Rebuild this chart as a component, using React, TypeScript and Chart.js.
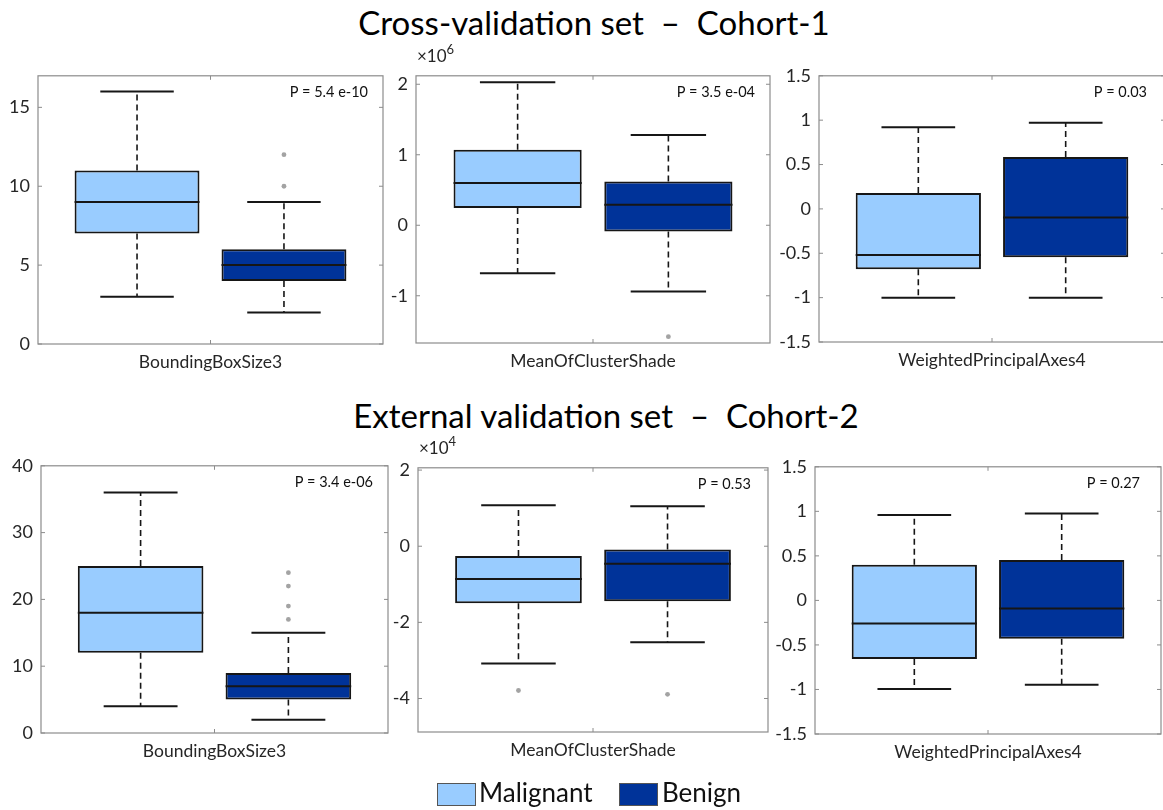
import React, { useEffect, useRef } from 'react';
import { Chart, registerables } from 'chart.js';

Chart.register(...registerables);

// ---------------- data ----------------
const groups = ['Malignant', 'Benign'];
const groupPositions = [1, 2];
const groupColors = ['#99ccff', '#003399'];

const featureNames = ['BoundingBoxSize3', 'MeanOfClusterShade', 'WeightedPrincipalAxes4'];
const rowTitles = ['Cross-validation set  \u2013  Cohort-1', 'External validation set  \u2013  Cohort-2'];

// Cross-validation set, Cohort-1
const cvBBSLow = [3, 2];
const cvBBSQ1 = [7, 4];
const cvBBSMed = [9, 5];
const cvBBSQ3 = [11, 6];
const cvBBSHigh = [16, 9];
const cvBBSOutMal: number[] = [];
const cvBBSOutBen = [10, 12];
const cvBBSP = 'P = 5.4 e-10';

// MeanOfClusterShade values in units of 10^6
const cvMCSLow = [-0.68, -0.94];
const cvMCSQ1 = [0.246, -0.088];
const cvMCSMed = [0.6, 0.29];
const cvMCSQ3 = [1.07, 0.62];
const cvMCSHigh = [2.03, 1.28];
const cvMCSOutMal: number[] = [];
const cvMCSOutBen = [-1.58];
const cvMCSP = 'P = 3.5 e-04';

const cvWPALow = [-1.0, -1.0];
const cvWPAQ1 = [-0.68, -0.546];
const cvWPAMed = [-0.52, -0.096];
const cvWPAQ3 = [0.18, 0.585];
const cvWPAHigh = [0.92, 0.97];
const cvWPAOutMal: number[] = [];
const cvWPAOutBen: number[] = [];
const cvWPAP = 'P = 0.03';

// External validation set, Cohort-2
const exBBSLow = [4, 2];
const exBBSQ1 = [12, 5];
const exBBSMed = [18, 7];
const exBBSQ3 = [25, 9];
const exBBSHigh = [36, 15];
const exBBSOutMal: number[] = [];
const exBBSOutBen = [17, 19, 22, 24];
const exBBSP = 'P = 3.4 e-06';

// MeanOfClusterShade values in units of 10^4
const exMCSLow = [-3.08, -2.52];
const exMCSQ1 = [-1.5, -1.445];
const exMCSMed = [-0.86, -0.46];
const exMCSQ3 = [-0.26, -0.085];
const exMCSHigh = [1.076, 1.05];
const exMCSOutMal = [-3.79];
const exMCSOutBen = [-3.89];
const exMCSP = 'P = 0.53';

const exWPALow = [-0.995, -0.946];
const exWPAQ1 = [-0.657, -0.43];
const exWPAMed = [-0.26, -0.092];
const exWPAQ3 = [0.4, 0.454];
const exWPAHigh = [0.96, 0.975];
const exWPAOutMal: number[] = [];
const exWPAOutBen: number[] = [];
const exWPAP = 'P = 0.27';

// axis limits [min, max, step]
const yLimits = [
  [0, 17, 5],
  [-1.67, 2.12, 1],
  [-1.5, 1.5, 0.5],
  [0, 40, 10],
  [-4.88, 2.06, 2],
  [-1.5, 1.5, 0.5],
];
const exponents = ['', '6', '', '', '4', ''];
const xMin = 0.326;
const xMax = 2.674;
const groupTick = 1.5;

// ---------------- layout ----------------
const FONT = 'Lato, "Open Sans", sans-serif';
const Y_AXIS_W = 44;
const PAD_T = 14;
const PAD_R = 14;
const X_AXIS_H = 40;

const rects = [
  { l: 38, t: 71, r: 383, b: 344 },
  { l: 416, t: 71, r: 770, b: 343 },
  { l: 819, t: 71, r: 1165, b: 342 },
  { l: 41, t: 461, r: 388, b: 733 },
  { l: 418, t: 463, r: 768, b: 732 },
  { l: 815, t: 462, r: 1161, b: 734 },
];
const pInsets = [15, 15, 18, 15, 17, 21];

type Panel = {
  name: string;
  pText: string;
  low: number[];
  q1: number[];
  med: number[];
  q3: number[];
  high: number[];
  outliers: number[][];
  lim: number[];
  rect: { l: number; t: number; r: number; b: number };
  pInset: number;
  exponent: string;
};

const panelStats = [
  [cvBBSLow, cvBBSQ1, cvBBSMed, cvBBSQ3, cvBBSHigh, cvBBSOutMal, cvBBSOutBen, cvBBSP],
  [cvMCSLow, cvMCSQ1, cvMCSMed, cvMCSQ3, cvMCSHigh, cvMCSOutMal, cvMCSOutBen, cvMCSP],
  [cvWPALow, cvWPAQ1, cvWPAMed, cvWPAQ3, cvWPAHigh, cvWPAOutMal, cvWPAOutBen, cvWPAP],
  [exBBSLow, exBBSQ1, exBBSMed, exBBSQ3, exBBSHigh, exBBSOutMal, exBBSOutBen, exBBSP],
  [exMCSLow, exMCSQ1, exMCSMed, exMCSQ3, exMCSHigh, exMCSOutMal, exMCSOutBen, exMCSP],
  [exWPALow, exWPAQ1, exWPAMed, exWPAQ3, exWPAHigh, exWPAOutMal, exWPAOutBen, exWPAP],
] as any[];

const panels: Panel[] = panelStats.map((s, i) => ({
  name: featureNames[i % 3],
  low: s[0],
  q1: s[1],
  med: s[2],
  q3: s[3],
  high: s[4],
  outliers: [s[5], s[6]],
  pText: s[7],
  lim: yLimits[i],
  rect: rects[i],
  pInset: pInsets[i],
  exponent: exponents[i],
}));

const FRAME = '#8c8c8c';
const INK = '#161616';
const TEXT = '#262626';
const CAP_HALF = 0.25;

function buildConfig(p: Panel): any {
  const decor = {
    id: 'boxDecor',
    afterDatasetsDraw(chart: any) {
      const { ctx, chartArea } = chart;
      const xs = chart.scales.x;
      const ys = chart.scales.y;
      ctx.save();
      groups.forEach((_, i) => {
        const px = xs.getPixelForValue(groupPositions[i]);
        const capPx = xs.getPixelForValue(groupPositions[i] + CAP_HALF) - px;
        const bar = chart.getDatasetMeta(i).data[0];
        const half = bar.width / 2;
        // whiskers
        ctx.strokeStyle = INK;
        ctx.lineWidth = 1.6;
        ctx.setLineDash([6, 4]);
        ctx.beginPath();
        ctx.moveTo(px, ys.getPixelForValue(p.q3[i]));
        ctx.lineTo(px, ys.getPixelForValue(p.high[i]));
        ctx.moveTo(px, ys.getPixelForValue(p.q1[i]));
        ctx.lineTo(px, ys.getPixelForValue(p.low[i]));
        ctx.stroke();
        ctx.setLineDash([]);
        // caps
        ctx.lineWidth = 2;
        ctx.beginPath();
        const yh = ys.getPixelForValue(p.high[i]);
        const yl = ys.getPixelForValue(p.low[i]);
        ctx.moveTo(px - capPx, yh);
        ctx.lineTo(px + capPx, yh);
        ctx.moveTo(px - capPx, yl);
        ctx.lineTo(px + capPx, yl);
        ctx.stroke();
        // median
        const ym = ys.getPixelForValue(p.med[i]);
        ctx.beginPath();
        ctx.moveTo(bar.x - half, ym);
        ctx.lineTo(bar.x + half, ym);
        ctx.stroke();
      });
      // frame
      ctx.strokeStyle = FRAME;
      ctx.lineWidth = 1.2;
      ctx.strokeRect(chartArea.left, chartArea.top, chartArea.right - chartArea.left, chartArea.bottom - chartArea.top);
      // inner ticks
      ctx.lineWidth = 1;
      ctx.beginPath();
      ys.ticks.forEach((tk: any) => {
        const y = ys.getPixelForValue(tk.value);
        ctx.moveTo(chartArea.left, y);
        ctx.lineTo(chartArea.left + 4, y);
        ctx.moveTo(chartArea.right, y);
        ctx.lineTo(chartArea.right - 4, y);
      });
      xs.ticks.forEach((tk: any) => {
        const x = xs.getPixelForValue(tk.value);
        ctx.moveTo(x, chartArea.bottom);
        ctx.lineTo(x, chartArea.bottom - 4);
        ctx.moveTo(x, chartArea.top);
        ctx.lineTo(x, chartArea.top + 4);
      });
      ctx.stroke();
      // p-value
      ctx.fillStyle = '#111';
      ctx.font = `14.5px ${FONT}`;
      ctx.textAlign = 'right';
      ctx.textBaseline = 'middle';
      ctx.fillText(p.pText, chartArea.right - p.pInset, chartArea.top + 17);
      ctx.restore();
    },
  };

  return {
    type: 'bar',
    data: {
      datasets: [
        ...groups.map((g, i) => ({
          type: 'bar',
          label: g,
          data: [{ x: groupPositions[i], y: [p.q1[i], p.q3[i]] }],
          backgroundColor: groupColors[i],
          borderColor: INK,
          borderWidth: 2,
          borderSkipped: false,
          grouped: false,
          categoryPercentage: 1,
          barPercentage: 0.85,
        })),
        ...groups.map((g, i) => ({
          type: 'scatter',
          label: g + ' outliers',
          data: p.outliers[i].map((v) => ({ x: groupPositions[i], y: v })),
          pointRadius: 2.4,
          pointBackgroundColor: '#a3a3a3',
          pointBorderWidth: 0,
        })),
      ],
    },
    options: {
      responsive: false,
      animation: false,
      devicePixelRatio: 1,
      layout: { padding: { left: 0, top: PAD_T, right: PAD_R, bottom: 0 } },
      plugins: { legend: { display: false }, tooltip: { enabled: false }, title: { display: false } },
      scales: {
        x: {
          type: 'linear',
          min: xMin,
          max: xMax,
          offset: false,
          grid: { display: false, drawTicks: false, offset: false },
          border: { display: false },
          afterBuildTicks: (s: any) => {
            s.ticks = [{ value: groupTick }];
          },
          afterFit: (s: any) => {
            s.height = X_AXIS_H;
          },
          ticks: {
            autoSkip: false,
            maxRotation: 0,
            padding: 8,
            color: TEXT,
            font: { family: FONT, size: 17.5 },
            callback: () => p.name,
          },
        },
        y: {
          type: 'linear',
          min: p.lim[0],
          max: p.lim[1],
          grid: { display: false, drawTicks: false },
          border: { display: false },
          afterFit: (s: any) => {
            s.width = Y_AXIS_W;
          },
          ticks: {
            stepSize: p.lim[2],
            includeBounds: false,
            padding: 8,
            color: TEXT,
            font: { family: FONT, size: 18 },
            callback: (v: number) => String(v),
          },
        },
      },
    },
    plugins: [decor],
  };
}

function BoxPanel({ panel }: { panel: Panel }) {
  const ref = useRef<HTMLCanvasElement>(null);
  const { l, t, r, b } = panel.rect;
  const cw = r - l + Y_AXIS_W + PAD_R;
  const ch = b - t + PAD_T + X_AXIS_H;
  useEffect(() => {
    const chart = new Chart(ref.current as HTMLCanvasElement, buildConfig(panel));
    return () => chart.destroy();
  }, [panel]);
  return (
    <>
      <canvas
        ref={ref}
        width={cw}
        height={ch}
        style={{ position: 'absolute', left: l - Y_AXIS_W, top: t - PAD_T, width: cw, height: ch }}
      />
      {panel.exponent ? (
        <div
          style={{
            position: 'absolute',
            left: l + 1,
            top: t - 24,
            font: `17px ${FONT}`,
            lineHeight: '17px',
            color: TEXT,
            whiteSpace: 'pre',
          }}
        >
          {'\u00d710'}
          <span style={{ fontSize: 13, position: 'relative', top: -8 }}>{panel.exponent}</span>
        </div>
      ) : null}
    </>
  );
}

const titleCenters = [594, 606];
const titleTops = [6, 399];

export default function App() {
  return (
    <div
      style={{
        position: 'absolute',
        left: 0,
        top: 0,
        width: 1163,
        height: 810,
        overflow: 'hidden',
        background: '#fff',
        fontFamily: FONT,
      }}
    >
      {rowTitles.map((tt, i) => (
        <div
          key={tt}
          style={{
            position: 'absolute',
            left: titleCenters[i],
            top: titleTops[i],
            transform: 'translateX(-50%)',
            fontSize: 33,
            lineHeight: '33px',
            whiteSpace: 'pre',
            color: '#000',
          }}
        >
          {tt}
        </div>
      ))}
      {panels.map((p, i) => (
        <BoxPanel key={i} panel={p} />
      ))}
      {groups.map((g, i) => (
        <React.Fragment key={g}>
          <div
            style={{
              position: 'absolute',
              left: [437, 619][i],
              top: 783,
              width: 37,
              height: 21,
              background: groupColors[i],
              border: '1px solid #555',
            }}
          />
          <div
            style={{
              position: 'absolute',
              left: [479, 662][i],
              top: 779,
              fontSize: 26,
              lineHeight: '26px',
              color: '#111',
              whiteSpace: 'pre',
            }}
          >
            {g}
          </div>
        </React.Fragment>
      ))}
    </div>
  );
}
